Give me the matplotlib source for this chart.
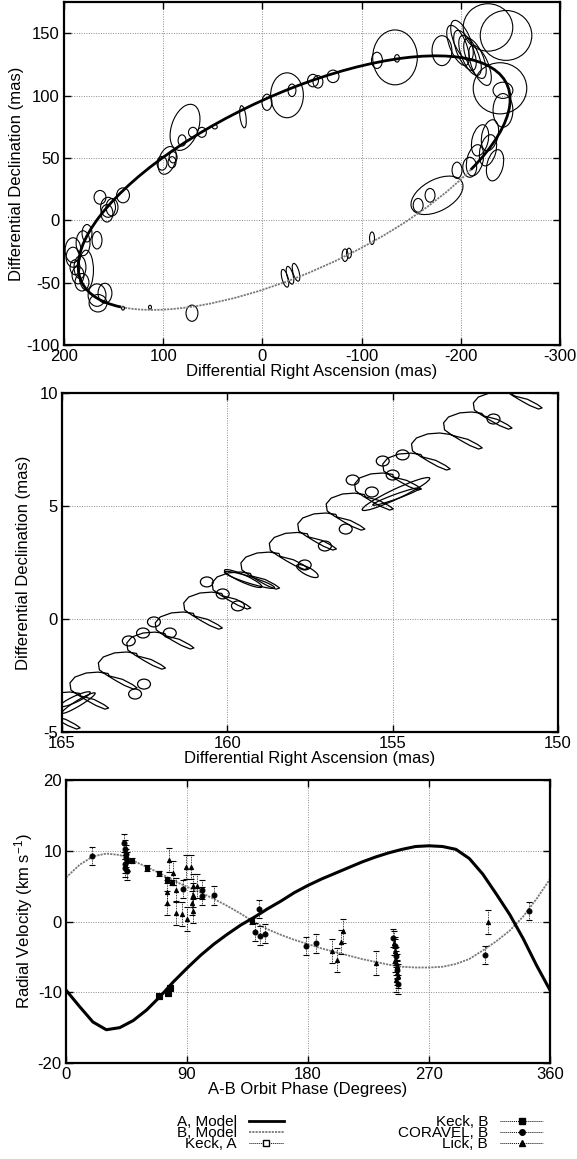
import matplotlib
matplotlib.use("Agg")
import numpy as np
import matplotlib.pyplot as plt
from matplotlib.patches import Ellipse, Arc
from matplotlib.lines import Line2D

plt.rcParams['font.family'] = ['Liberation Sans', 'DejaVu Sans']
plt.rcParams['font.size'] = 12
plt.rcParams['axes.unicode_minus'] = False
plt.rcParams['mathtext.default'] = 'regular'

# --- 1. Visual orbit (top panel) ---
# relative orbit ellipse: centre RA, centre Dec, full width, full height, tilt (deg)
orbit_ra, orbit_dec = -32, 30
orbit_w, orbit_h, orbit_tilt = 458, 146, 160.9
# where the covered (solid) part of the orbit starts / stops, polar angle in the ellipse frame
solid_from, solid_to = 169.4, 375.7

# measured positions with error ellipses: (RA, Dec, width, height, angle)
orbit_errs = [
    (78, 74.5, 40, 26, 120), (96, 48, 24, 16, 120), (90, 50.5, 8, 9, 0),
    (81, 64, 8, 9, 0), (70, 70.5, 9, 8, 0), (61, 70.5, 9, 8, 0), (48, 75, 5, 3.5, 0),
    (19.6, 83, 6, 18, 170), (-4.6, 94.6, 10, 13, 0), (-24.8, 100.2, 33, 36, 0),
    (-29.8, 104.2, 8, 10, 0), (-51, 112, 11, 10, 0), (-56, 111, 10, 10, 0),
    (-71.2, 115.4, 12, 10, 0), (-133.7, 130.6, 45, 44, 0), (-115.5, 128.2, 11, 13, 0),
    (-135.7, 129.8, 5, 6, 0), (-181, 136, 20, 24, 0),
    (-197.2, 140.2, 36, 16, 60), (-204.2, 136.2, 36, 16, 60), (-209.3, 132.2, 36, 16, 60),
    (-214.3, 129.8, 36, 16, 60), (-201.2, 144.2, 36, 16, 60), (-219.4, 124.2, 36, 16, 60),
    (-227.4, 154.6, 50, 38, 0), (-245.6, 148.2, 52, 40, 0), (-239.5, 105.8, 54, 41, 0),
    (-242.5, 104.2, 20, 13, 0),
    (-219.4, 64.1, 16, 26, 20), (-227.4, 56.1, 16, 26, 20), (-214.3, 48.1, 16, 26, 20),
    (-229.4, 68.1, 16, 26, 20), (-234.5, 44.1, 16, 26, 20),
    (-242.5, 88.1, 20, 27, 0), (-196.2, 40.1, 10, 13, 0), (-209, 42.5, 14, 16, 0),
    (-176, 20, 55, 26, 160), (-169, 20, 10, 11, 0), (-157, 12, 10, 11, 0),
    (-110.5, -14.4, 5, 10, 0), (-83.3, -28, 6, 10, 0), (-87.3, -26.4, 5, 8, 0),
    (-22.8, -46.5, 6, 15, 160), (-27.8, -44.1, 6, 15, 160), (-33.9, -41.7, 6, 15, 160),
    (71, -74.5, 12, 13, 0), (113.3, -69.7, 3, 3, 0), (140.5, -70.5, 3, 3, 0),
    (140.5, 20, 13, 12, 0), (155.6, 10.4, 15, 16, 0), (151.6, 10.4, 12, 14, 0),
    (156.7, 5.6, 12, 14, 0), (176.8, -10.4, 10, 14, 0), (166.7, -16, 10, 14, 0),
    (180.8, -18.4, 14, 20, 0), (190.9, -29.6, 14, 16, 0), (183.9, -37.7, 12, 18, 0),
    (177.8, -40, 15, 32, 0), (188.9, -37.7, 10, 12, 0), (185.9, -44, 12, 14, 0),
    (181.9, -49.7, 14, 14, 0), (166.7, -60, 18, 18, 0), (158.7, -58.5, 14, 16, 0),
    (165.7, -66.5, 18, 14, 0), (190.9, -24, 16, 20, 0), (101.2, 45.7, 10, 11, 0),
    (91.1, 46.5, 8, 9, 0), (163.7, 18.4, 12, 11, 0),
]

# --- 2. Photocentre wobble (middle panel): traced path, (RA, Dec), one line per loop ---
wobble_path = [
    (166.15, -5.18), (165.75, -5.33), (165.45, -5.56), (165.31, -5.71), (165.42, -5.76), (165.69, -5.60), (165.96, -5.38), (166.24, -5.13), (166.45, -4.91), (166.48, -4.60), (166.33, -4.34), (165.99, -4.16), (165.63, -4.12), (165.33, -4.18),
    (165.29, -4.29), (164.89, -4.44), (164.59, -4.67), (164.45, -4.82), (164.56, -4.87), (164.83, -4.71), (165.10, -4.49), (165.38, -4.24), (165.59, -4.02), (165.62, -3.71), (165.47, -3.45), (165.13, -3.27), (164.77, -3.23), (164.47, -3.29),
    (164.43, -3.41), (164.03, -3.56), (163.73, -3.79), (163.59, -3.94), (163.70, -3.99), (163.97, -3.83), (164.24, -3.61), (164.52, -3.36), (164.73, -3.14), (164.76, -2.83), (164.61, -2.57), (164.27, -2.39), (163.91, -2.35), (163.61, -2.41),
    (163.57, -2.52), (163.17, -2.67), (162.87, -2.90), (162.73, -3.05), (162.84, -3.10), (163.11, -2.94), (163.38, -2.72), (163.66, -2.47), (163.87, -2.25), (163.90, -1.94), (163.75, -1.68), (163.41, -1.50), (163.05, -1.46), (162.75, -1.52),
    (162.71, -1.64), (162.31, -1.79), (162.01, -2.02), (161.87, -2.17), (161.98, -2.22), (162.25, -2.06), (162.52, -1.84), (162.80, -1.59), (163.01, -1.37), (163.04, -1.06), (162.89, -0.80), (162.55, -0.62), (162.19, -0.58), (161.89, -0.64),
    (161.85, -0.75), (161.45, -0.90), (161.15, -1.13), (161.01, -1.28), (161.12, -1.33), (161.39, -1.17), (161.66, -0.95), (161.94, -0.70), (162.15, -0.48), (162.18, -0.17), (162.03, 0.09), (161.69, 0.27), (161.33, 0.31), (161.03, 0.25),
    (160.99, 0.13), (160.59, -0.02), (160.29, -0.25), (160.15, -0.40), (160.26, -0.45), (160.53, -0.29), (160.80, -0.07), (161.08, 0.18), (161.29, 0.40), (161.32, 0.71), (161.17, 0.97), (160.83, 1.15), (160.47, 1.19), (160.17, 1.13),
    (160.13, 1.02), (159.73, 0.87), (159.43, 0.64), (159.29, 0.49), (159.40, 0.44), (159.67, 0.60), (159.94, 0.82), (160.22, 1.07), (160.43, 1.29), (160.46, 1.60), (160.31, 1.86), (159.97, 2.04), (159.61, 2.08), (159.31, 2.02),
    (159.26, 1.90), (158.86, 1.75), (158.56, 1.52), (158.42, 1.37), (158.53, 1.32), (158.80, 1.48), (159.07, 1.70), (159.35, 1.95), (159.56, 2.17), (159.59, 2.48), (159.44, 2.74), (159.10, 2.92), (158.74, 2.96), (158.44, 2.90),
    (158.40, 2.77), (158.00, 2.62), (157.70, 2.39), (157.56, 2.24), (157.67, 2.19), (157.94, 2.35), (158.21, 2.57), (158.49, 2.82), (158.70, 3.04), (158.73, 3.35), (158.58, 3.61), (158.24, 3.79), (157.88, 3.83), (157.58, 3.77),
    (157.54, 3.63), (157.14, 3.48), (156.84, 3.25), (156.70, 3.10), (156.81, 3.05), (157.08, 3.21), (157.35, 3.43), (157.63, 3.68), (157.84, 3.90), (157.87, 4.21), (157.72, 4.47), (157.38, 4.65), (157.02, 4.69), (156.72, 4.63),
    (156.68, 4.51), (156.28, 4.36), (155.98, 4.13), (155.84, 3.98), (155.95, 3.93), (156.22, 4.09), (156.49, 4.31), (156.77, 4.56), (156.98, 4.78), (157.01, 5.09), (156.86, 5.35), (156.52, 5.53), (156.16, 5.57), (155.86, 5.51),
    (155.82, 5.40), (155.42, 5.25), (155.12, 5.02), (154.98, 4.87), (155.09, 4.82), (155.36, 4.98), (155.63, 5.20), (155.91, 5.45), (156.12, 5.67), (156.15, 5.98), (156.00, 6.24), (155.66, 6.42), (155.30, 6.46), (155.00, 6.40),
    (154.97, 6.28), (154.57, 6.13), (154.27, 5.90), (154.13, 5.75), (154.24, 5.70), (154.51, 5.86), (154.78, 6.08), (155.06, 6.33), (155.27, 6.55), (155.30, 6.86), (155.15, 7.12), (154.81, 7.30), (154.45, 7.34), (154.15, 7.28),
    (154.10, 7.17), (153.70, 7.02), (153.40, 6.79), (153.26, 6.64), (153.37, 6.59), (153.64, 6.75), (153.91, 6.97), (154.19, 7.22), (154.40, 7.44), (154.43, 7.75), (154.28, 8.01), (153.94, 8.19), (153.58, 8.23), (153.28, 8.17),
    (153.13, 8.10), (152.73, 7.95), (152.43, 7.72), (152.29, 7.57), (152.40, 7.52), (152.67, 7.68), (152.94, 7.90), (153.22, 8.15), (153.43, 8.37), (153.46, 8.68), (153.31, 8.94), (152.97, 9.12), (152.61, 9.16), (152.31, 9.10),
    (152.23, 8.98), (151.83, 8.83), (151.53, 8.60), (151.39, 8.45), (151.50, 8.40), (151.77, 8.56), (152.04, 8.78), (152.32, 9.03), (152.53, 9.25), (152.56, 9.56), (152.41, 9.82), (152.07, 10.00), (151.71, 10.04), (151.41, 9.98),
    (151.32, 9.87), (150.92, 9.72), (150.62, 9.49), (150.48, 9.34), (150.59, 9.29), (150.86, 9.45), (151.13, 9.67), (151.41, 9.92), (151.62, 10.14),
]

# wobble measurements: (RA, Dec, width, height, angle)
wobble_errs = [
    (162.22, -0.13, 0.39, 0.44, 0), (162.55, -0.62, 0.39, 0.44, 0), (162.98, -0.97, 0.39, 0.44, 0),
    (161.74, -0.62, 0.39, 0.44, 0), (162.52, -2.88, 0.39, 0.44, 0), (162.79, -3.32, 0.39, 0.44, 0),
    (160.62, 1.64, 0.39, 0.44, 0), (160.14, 1.11, 0.39, 0.44, 0), (159.68, 0.58, 0.39, 0.44, 0),
    (157.66, 2.39, 0.39, 0.44, 0), (157.05, 3.23, 0.39, 0.44, 0), (156.42, 3.98, 0.39, 0.44, 0),
    (156.21, 6.15, 0.39, 0.44, 0), (155.63, 5.62, 0.39, 0.44, 0), (155.00, 6.37, 0.39, 0.44, 0),
    (155.30, 6.99, 0.39, 0.44, 0), (154.70, 7.26, 0.39, 0.44, 0), (151.95, 8.85, 0.39, 0.44, 0),
    (164.5, -3.72, 1.34, 0.22, 138), (164.6, -3.55, 1.1, 0.25, 145),
    (159.33, 1.73, 1.67, 0.28, 25), (159.52, 1.79, 1.35, 0.3, 34),
    (154.9, 5.53, 2.48, 0.4, 145), (154.89, 5.42, 1.61, 0.2, 152),
    (157.58, 2.12, 0.82, 0.3, 40),
]

# --- 3. Radial velocities (bottom panel) ---
model_phase = [0, 10, 20, 30, 40, 50, 60, 70, 80, 90, 100, 110, 120, 130, 140, 150, 160, 170, 180,
               190, 200, 210, 220, 230, 240, 250, 260, 270, 280, 290, 300, 310, 320, 330, 340, 350, 360]
model_a = [-9.7, -12.0, -14.2, -15.3, -15.0, -14.0, -12.5, -10.6, -8.5, -6.6, -4.8, -3.2, -1.8, -0.5,
           0.6, 1.8, 2.9, 4.1, 5.1, 6.0, 6.8, 7.6, 8.4, 9.1, 9.7, 10.2, 10.6, 10.7, 10.6, 10.2, 8.9,
           6.7, 3.9, 1.0, -2.4, -6.2, -9.7]
model_b = [6.2, 8.0, 9.2, 9.6, 9.4, 8.6, 7.7, 6.8, 5.8, 4.9, 4.1, 3.2, 2.2, 1.1, -0.1, -1.1, -1.9,
           -2.6, -3.2, -3.8, -4.3, -4.8, -5.3, -5.7, -6.1, -6.4, -6.5, -6.5, -6.4, -6.0, -5.3, -4.1,
           -2.8, -1.3, 0.7, 3.2, 6.0]

keck_a_phase = [69, 76, 77.5]
keck_a_rv = [-10.6, -10.1, -9.4]
keck_b_phase = [49, 60, 69, 75, 79, 138]
keck_b_rv = [8.6, 7.6, 6.8, 5.9, 5.5, 0.1]
coravel_phase = [19.6, 43.5, 44.0, 44.4, 44.8, 45.0, 44.2, 43.8, 45.3, 87.3, 101, 101, 110, 143.8,
                 140.6, 144.3, 148, 178.5, 186, 243.5, 244.5, 245.5, 246.5, 247, 311.7, 344.6]
coravel_rv = [9.3, 11.1, 10.2, 9.5, 9.0, 8.5, 8.1, 7.6, 7.1, 4.6, 4.5, 3.6, 3.7, 1.8, -1.5, -2.0,
              -1.7, -3.5, -3.1, -2.3, -3.5, -4.9, -6.8, -8.9, -4.7, 1.5]
lick_phase = [76.6, 75.4, 75.4, 79.8, 81.8, 81.8, 89, 89.8, 86.5, 92.7, 94.2, 94.7, 97.2, 93.5, 94.7,
              197.6, 201.8, 204.5, 206.3, 230.3, 244, 244.5, 245, 245.5, 246, 246.5, 247, 245.5, 313.6]
lick_rv = [8.7, 4.1, 2.6, 6.9, 4.5, 1.2, 7.7, 0.3, 1.1, 7.7, 5.0, 1.5, 5.0, 2.6, 3.8, -4.2, -5.4,
           -2.9, -1.3, -5.8, -3.0, -4.2, -5.4, -5.8, -6.3, -7.3, -7.7, -8.2, -0.1]
keck_err, coravel_err, lick_err = 0.4, 1.3, 1.7

# --- styling helpers ---
W, H = 577, 1159
GRID = dict(color='#8c8c8c', lw=0.7, ls=(0, (1, 1.5)))
B_STYLE = dict(color='#7a7a7a', lw=1.3, ls=(0, (1.2, 0.6)))


def frame(ax):
    ax.grid(True, **GRID)
    ax.set_axisbelow(True)
    ax.tick_params(direction='in', top=True, right=True, length=5, width=1, pad=3, labelsize=12)
    for s in ax.spines.values():
        s.set_linewidth(1.6)


def px_axes(fig, left, top, right, bottom):
    return fig.add_axes([left / W, 1 - bottom / H, (right - left) / W, (bottom - top) / H])


fig = plt.figure(figsize=(W / 100, H / 100), dpi=100)

# top panel
ax1 = px_axes(fig, 64, 2, 560, 345)
for ra, dec, w, h, a in orbit_errs:
    ax1.add_patch(Ellipse((ra, dec), w, h, angle=a, fill=False, lw=0.8, ec='black'))
ax1.add_patch(Arc((orbit_ra, orbit_dec), orbit_w, orbit_h, angle=orbit_tilt,
                  theta1=solid_to - 360, theta2=solid_from, **B_STYLE, zorder=3))
ax1.add_patch(Arc((orbit_ra, orbit_dec), orbit_w, orbit_h, angle=orbit_tilt,
                  theta1=solid_from, theta2=solid_to, color='black', lw=2, zorder=4))
ax1.set_xlim(200, -300)
ax1.set_ylim(-100, 175)
ax1.set_xticks([200, 100, 0, -100, -200, -300])
ax1.set_yticks([-100, -50, 0, 50, 100, 150])
ax1.set_xlabel('Differential Right Ascension (mas)', labelpad=0)
ax1.set_ylabel('Differential Declination (mas)', labelpad=2)
frame(ax1)

# middle panel
ax2 = px_axes(fig, 62, 393, 558, 732)
for ra, dec, w, h, a in wobble_errs:
    ax2.add_patch(Ellipse((ra, dec), w, h, angle=a, fill=False, lw=0.9, ec='black'))
wp = np.array(wobble_path)
ax2.plot(wp[:, 0], wp[:, 1], color='black', lw=0.9)
ax2.set_xlim(165, 150)
ax2.set_ylim(-5, 10)
ax2.set_xticks([165, 160, 155, 150])
ax2.set_yticks([-5, 0, 5, 10])
ax2.set_xlabel('Differential Right Ascension (mas)', labelpad=0)
ax2.set_ylabel('Differential Declination (mas)', labelpad=6)
frame(ax2)

# bottom panel
ax3 = px_axes(fig, 66, 780, 550, 1063)
ax3.plot(model_phase, model_b, **B_STYLE, zorder=2)
ax3.plot(model_phase, model_a, color='black', lw=2.2, zorder=3)


def rv_points(ph, rv, err, marker, ms, mfc='black'):
    pts = ax3.errorbar(ph, rv, yerr=err, fmt=marker, ms=ms, mfc=mfc, mec='black', mew=0.8,
                       ecolor='black', elinewidth=0.6, capsize=2, capthick=0.6, zorder=4)
    for bar in pts[2]:
        bar.set_linestyle((0, (1, 1)))


rv_points(lick_phase, lick_rv, lick_err, '^', 3)
rv_points(coravel_phase, coravel_rv, coravel_err, 'o', 3.5)
rv_points(keck_b_phase, keck_b_rv, keck_err, 's', 3.5)
rv_points(keck_a_phase, keck_a_rv, keck_err, 's', 5)
ax3.set_xlim(0, 360)
ax3.set_ylim(-20, 20)
ax3.set_xticks([0, 90, 180, 270, 360])
ax3.set_yticks([-20, -10, 0, 10, 20])
ax3.set_xlabel('A-B Orbit Phase (Degrees)', labelpad=0)
ax3.set_ylabel('Radial Velocity (km s$^{-1}$)', labelpad=2)
frame(ax3)

# keys below the plots (gnuplot style: label first, tight rows)
pt = dict(color='black', lw=0.7, ls=(0, (1, 1)), mec='black')
left_keys = [Line2D([], [], color='black', lw=2),
             Line2D([], [], **B_STYLE),
             Line2D([], [], marker='s', ms=4, mfc='white', **pt)]
right_keys = [Line2D([], [], marker='s', ms=4, mfc='black', **pt),
              Line2D([], [], marker='o', ms=4, mfc='black', **pt),
              Line2D([], [], marker='^', ms=4, mfc='black', **pt)]
key_opts = dict(loc='upper right', markerfirst=False, frameon=False, fontsize=11,
                labelspacing=-0.2, handletextpad=0.8, borderpad=0,
                borderaxespad=0, numpoints=1)
fig.legend(left_keys, ['A, Model', 'B, Model', 'Keck, A'], handlelength=2.3,
           bbox_to_anchor=(284 / W, 1 - 1115 / H), **key_opts)
fig.legend(right_keys, ['Keck, B', 'CORAVEL, B', 'Lick, B'], handlelength=2.8,
           bbox_to_anchor=(543 / W, 1 - 1115 / H), **key_opts)

fig.savefig('out.png', dpi=100)
